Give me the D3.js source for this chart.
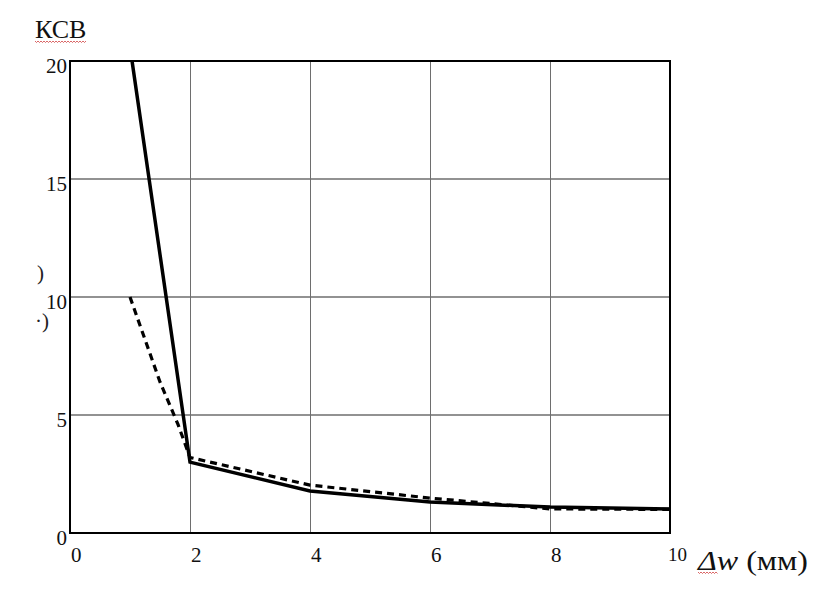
<!DOCTYPE html>
<html><head><meta charset="utf-8">
<script src="https://cdn.jsdelivr.net/npm/d3@7/dist/d3.min.js"></script>
<style>body{margin:0;background:#fff}svg{display:block}text{font-family:"Liberation Serif","DejaVu Serif",serif}</style>
</head><body>
<script>
const xTicks = [0, 2, 4, 6, 8, 10];
const yTicks = [0, 5, 10, 15, 20];
const solidX = [1, 2, 4, 6, 8, 10];
const solidY = [20.6, 3.0, 1.78, 1.31, 1.1, 1.02];
const dashX = [1, 1.5, 1.8, 2, 4, 6, 8, 10];
const dashY = [10, 6.4, 4.6, 3.2, 2.03, 1.48, 1.02, 1.0];
const yTitle = "КСВ";

const W = 814, H = 592;
const svg = d3.select("body").append("svg").attr("width", W).attr("height", H);
const x = d3.scaleLinear().domain([0, 10]).range([70, 670]);
const y = d3.scaleLinear().domain([0, 20]).range([533, 61]);

// grid
svg.append("g").selectAll("line").data(xTicks.slice(1, -1)).join("line")
  .attr("x1", d => x(d) + 0.5).attr("x2", d => x(d) + 0.5).attr("y1", y(0)).attr("y2", y(20))
  .attr("stroke", "#6e6e6e").attr("stroke-width", 1);
svg.append("g").selectAll("line").data(yTicks.slice(1, -1)).join("line")
  .attr("y1", d => y(d)).attr("y2", d => y(d)).attr("x1", x(0)).attr("x2", x(10))
  .attr("stroke", "#6e6e6e").attr("stroke-width", 1.5);

// clip
svg.append("clipPath").attr("id", "clip").append("rect")
  .attr("x", x(0)).attr("y", y(20)).attr("width", x(10) - x(0)).attr("height", y(0) - y(20));

const line = d3.line().x(d => x(d[0])).y(d => y(d[1]));
svg.append("path").datum(dashX.map((v, i) => [v, dashY[i]]))
  .attr("d", line).attr("fill", "none").attr("stroke", "#000")
  .attr("stroke-width", 3.2).attr("stroke-dasharray", "7,5").attr("clip-path", "url(#clip)");
svg.append("path").datum(solidX.map((v, i) => [v, solidY[i]]))
  .attr("d", line).attr("fill", "none").attr("stroke", "#000")
  .attr("stroke-width", 3.5).attr("clip-path", "url(#clip)");

// frame
svg.append("rect").attr("x", x(0)).attr("y", y(20)).attr("width", x(10) - x(0)).attr("height", y(0) - y(20))
  .attr("fill", "none").attr("stroke", "#000").attr("stroke-width", 2);

// y tick labels
svg.append("g").selectAll("text").data(yTicks).join("text")
  .attr("x", 67).attr("y", d => y(d) + 12).attr("text-anchor", "end")
  .attr("font-size", 21).attr("fill", "#111").text(d => d);

// x tick labels
svg.append("g").selectAll("text").data(xTicks).join("text")
  .attr("x", d => x(d) + (d === 10 ? -2 : 1)).attr("y", d => d === 10 ? 561 : 562)
  .attr("text-anchor", "start")
  .attr("font-size", d => d === 10 ? 19 : 21).attr("fill", "#111").text(d => d);

// y title
svg.append("text").attr("x", 35).attr("y", 38).attr("font-size", 26)
  .attr("fill", "#111").text(yTitle);
// red squiggle under title
function squiggle(x0, x1, yy) {
  let p = `M${x0},${yy}`;
  for (let xx = x0 + 1.5, k = 0; xx <= x1; xx += 1.5, k++) p += `L${xx},${yy + (k % 2 ? 0 : 1.5)}`;
  svg.append("path").attr("d", p).attr("fill", "none").attr("stroke", "#d04040").attr("stroke-width", 0.8);
}
squiggle(35, 86, 41);

// x title
const xt = svg.append("text").attr("x", 698).attr("y", 570).attr("font-size", 28).attr("fill", "#111")
  .attr("textLength", 110).attr("lengthAdjust", "spacingAndGlyphs");
xt.append("tspan").attr("font-style", "italic").text("Δw");
xt.append("tspan").text(" (мм)");
squiggle(698, 718, 572);

// stray glyphs at left
svg.append("text").attr("x", 37).attr("y", 280).attr("font-size", 21).attr("fill", "#222").text(")");
svg.append("text").attr("x", 35).attr("y", 328).attr("font-size", 21).attr("fill", "#222").text("·)");
</script>
</body></html>
